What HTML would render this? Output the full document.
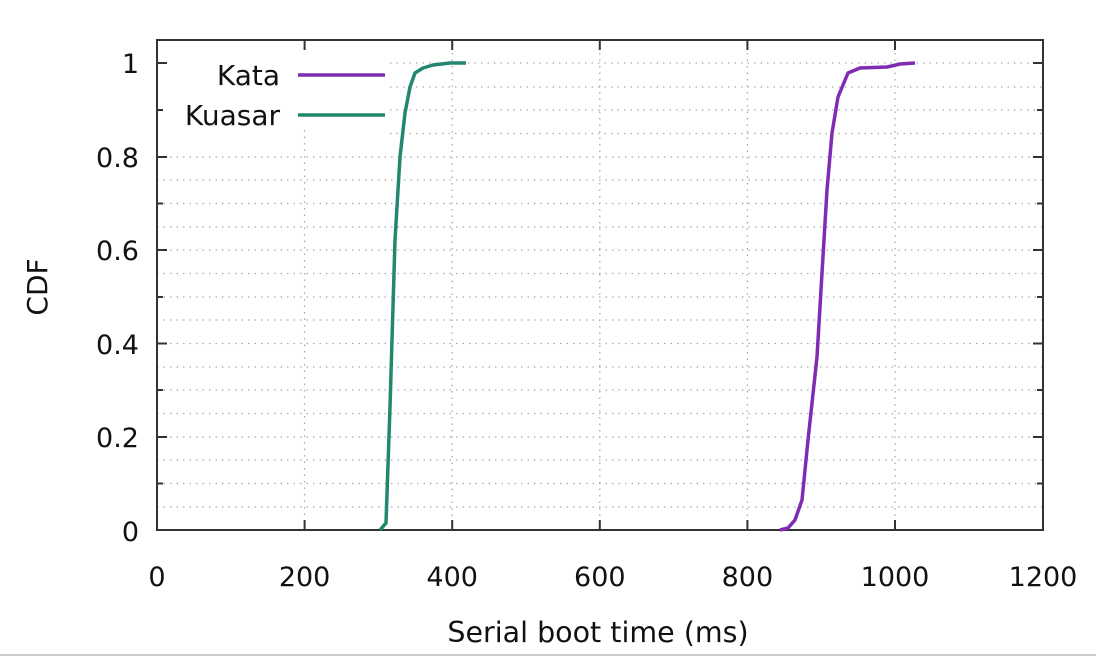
<!DOCTYPE html>
<html><head><meta charset="utf-8"><style>
body{margin:0;background:#fff}
svg text{font-family:"DejaVu Sans","Liberation Sans",sans-serif;fill:#111}
</style></head><body>
<svg width="1096" height="659" viewBox="0 0 1096 659" xmlns="http://www.w3.org/2000/svg">
<rect width="1096" height="659" fill="#fff"/>
<g stroke="#aaa" stroke-width="1.3" stroke-dasharray="1.5 5">
<path d="M157 507H1043M157 483.5H1043M157 460H1043M157 437H1043M157 413.5H1043M157 390H1043M157 367H1043M157 343.5H1043M157 320H1043M157 297H1043M157 273.5H1043M157 250H1043M157 227H1043M157 203.5H1043M157 180H1043M157 157H1043"/>
<path d="M390 133.5H1043M390 110H1043M390 87H1043M390 63H1043"/>
<path d="M304.6 130V530M452.2 40V530M599.8 40V530M747.4 40V530M895 40V530"/>
</g>
<g stroke="#333" stroke-width="2" fill="none">
<rect x="157" y="40" width="886" height="490"/>
<path d="M157 530h10M157 437h10M157 343.5h10M157 250h10M157 157h10M157 63h10M1043 530h-10M1043 437h-10M1043 343.5h-10M1043 250h-10M1043 157h-10M1043 63h-10"/>
<path d="M157 483.5h6M157 390h6M157 297h6M157 203.5h6M157 110h6M1043 483.5h-6M1043 390h-6M1043 297h-6M1043 203.5h-6M1043 110h-6"/>
<path d="M304.6 530v-10M452.2 530v-10M599.8 530v-10M747.4 530v-10M895 530v-10M304.6 40v10M452.2 40v10M599.8 40v10M747.4 40v10M895 40v10"/>
</g>
<g font-size="27" text-anchor="end">
<text x="139" y="541">0</text><text x="139" y="447">0.2</text><text x="139" y="354">0.4</text><text x="139" y="260">0.6</text><text x="139" y="167">0.8</text><text x="139" y="73">1</text>
</g>
<g font-size="27" text-anchor="middle">
<text x="157" y="586">0</text><text x="304.6" y="586">200</text><text x="452.2" y="586">400</text><text x="599.8" y="586">600</text><text x="747.4" y="586">800</text><text x="895" y="586">1000</text><text x="1043" y="586">1200</text>
</g>
<text x="598" y="642" font-size="28.5" text-anchor="middle">Serial boot time (ms)</text>
<text transform="translate(47,287) rotate(-90)" font-size="28" text-anchor="middle">CDF</text>
<g font-size="28" text-anchor="end"><text x="280" y="85">Kata</text><text x="280" y="125">Kuasar</text></g>
<path d="M298 75H385" stroke="#7f2bb3" stroke-width="3.5"/>
<path d="M298 115H385" stroke="#23876f" stroke-width="3.5"/>
<polyline fill="none" stroke="#23876f" stroke-width="3.5" stroke-linejoin="round" points="380,530 386,523 390,407 395,240 400,157 405,113 410,87 415,73 423,68 433,65 450,63 466,63"/>
<polyline fill="none" stroke="#7f2bb3" stroke-width="3.5" stroke-linejoin="round" points="780,530 788,528 795,520 802,500 808,440 817,357 822,273 827,190 832,133 838,97 848,73 860,68 887,67 900,64 915,63"/>
<path d="M0 655H1096" stroke="#ccc" stroke-width="2"/>
</svg>
</body></html>
